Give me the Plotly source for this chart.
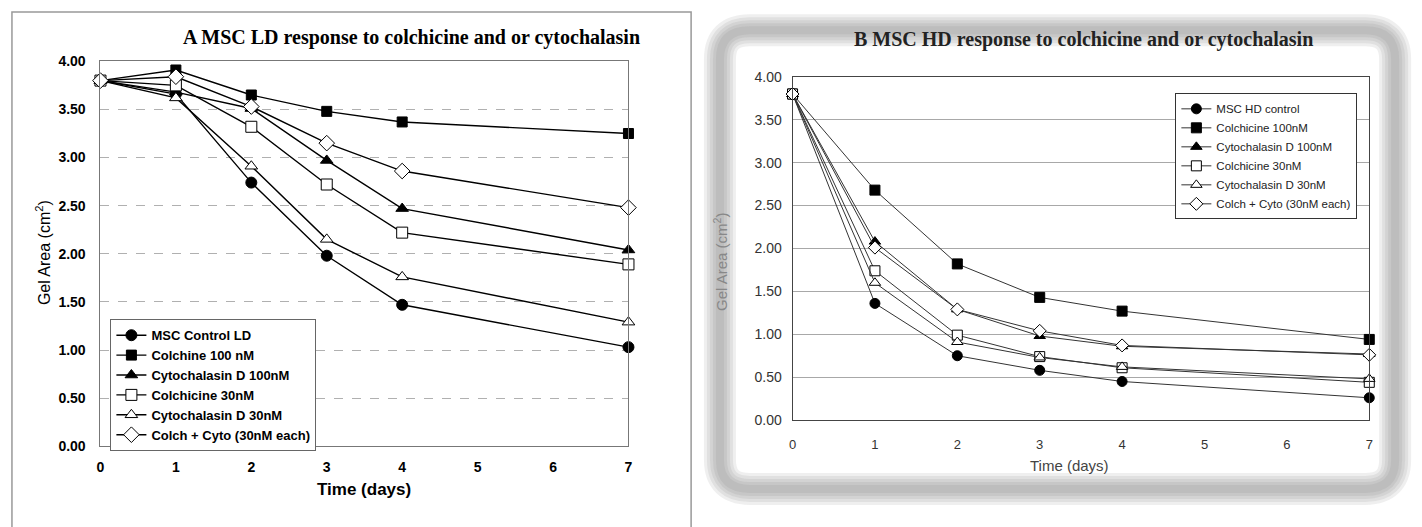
import plotly.graph_objects as go

W, H = 1422, 527

days = [0, 1, 2, 3, 4, 7]

# Panel A (MSC LD)
names_a = ["MSC Control LD", "Colchine 100 nM", "Cytochalasin D 100nM",
           "Colchicine 30nM", "Cytochalasin D 30nM", "Colch + Cyto (30nM each)"]
a_control = [3.80, 3.66, 2.74, 1.98, 1.47, 1.03]
a_colch100 = [3.80, 3.91, 3.65, 3.48, 3.37, 3.25]
a_cyto100 = [3.80, 3.68, 3.51, 2.97, 2.47, 2.04]
a_colch30 = [3.80, 3.75, 3.32, 2.72, 2.22, 1.89]
a_cyto30 = [3.80, 3.62, 2.91, 2.15, 1.76, 1.29]
a_combo = [3.80, 3.84, 3.53, 3.15, 2.86, 2.48]

# Panel B (MSC HD)
names_b = ["MSC HD control", "Colchicine 100nM", "Cytochalasin D 100nM",
           "Colchicine 30nM", "Cytochalasin D 30nM", "Colch + Cyto (30nM each)"]
b_control = [3.80, 1.36, 0.75, 0.58, 0.45, 0.26]
b_colch100 = [3.80, 2.68, 1.82, 1.43, 1.27, 0.94]
b_cyto100 = [3.80, 2.08, 1.29, 0.98, 0.86, 0.77]
b_colch30 = [3.80, 1.74, 0.99, 0.74, 0.61, 0.44]
b_cyto30 = [3.80, 1.60, 0.91, 0.73, 0.62, 0.48]
b_combo = [3.80, 2.01, 1.29, 1.04, 0.87, 0.76]

y_ticks = [0, 0.5, 1.0, 1.5, 2.0, 2.5, 3.0, 3.5, 4.0]
x_ticks = [0, 1, 2, 3, 4, 5, 6, 7]

symbols = ["circle", "square", "triangle-up", "square", "triangle-up", "diamond"]
fills = ["black", "black", "black", "white", "white", "white"]
sizes_a = [11, 10, 11, 11, 11, 12]
sizes_b = [10, 10, 10, 10, 10, 10]

def px(x):
    return x / W

def py(y):
    return 1 - y / H

fig = go.Figure()

series_a = [a_control, a_colch100, a_cyto100, a_colch30, a_cyto30, a_combo]
series_b = [b_control, b_colch100, b_cyto100, b_colch30, b_cyto30, b_combo]

for i, (nm, ys) in enumerate(zip(names_a, series_a)):
    fig.add_trace(go.Scatter(
        x=days, y=ys, name=nm, mode="lines+markers", xaxis="x", yaxis="y",
        legend="legend", cliponaxis=False,
        line=dict(color="black", width=1.4),
        marker=dict(symbol=symbols[i], size=sizes_a[i], color=fills[i],
                    line=dict(color="black", width=1))))

for i, (nm, ys) in enumerate(zip(names_b, series_b)):
    fig.add_trace(go.Scatter(
        x=days, y=ys, name=nm, mode="lines+markers", xaxis="x2", yaxis="y2",
        legend="legend2", cliponaxis=False,
        line=dict(color="#333333", width=1),
        marker=dict(symbol=symbols[i], size=sizes_b[i], color=fills[i],
                    line=dict(color="black", width=1))))

arial = "Liberation Sans, Arial, sans-serif"
times = "Liberation Serif, Times New Roman, serif"

axA = dict(range=[0, 7], tickvals=x_ticks, showgrid=False, zeroline=False,
           showline=True, linecolor="#777", linewidth=1, mirror=True,
           ticks="", ticklabelstandoff=8,
           tickfont=dict(family=arial, size=14, color="black", weight="bold"))
ayA = dict(range=[0, 4], tickvals=y_ticks, tickformat=".2f", zeroline=False,
           showgrid=True, gridcolor="#b0b0b0", griddash="dash", gridwidth=1,
           showline=True, linecolor="#777", linewidth=1, mirror=True,
           ticks="", ticklabelstandoff=11,
           tickfont=dict(family=arial, size=14, color="black", weight="bold"))

axB = dict(range=[0, 7], tickvals=x_ticks, showgrid=False, zeroline=False,
           showline=True, linecolor="#444", linewidth=1, mirror=True,
           ticks="", ticklabelstandoff=12,
           tickfont=dict(family=arial, size=13, color="#333"))
ayB = dict(range=[0, 4], tickvals=y_ticks, tickformat=".2f", zeroline=False,
           showgrid=True, gridcolor="#a8a8a8", gridwidth=1,
           showline=True, linecolor="#444", linewidth=1, mirror=True,
           ticks="", ticklabelstandoff=7,
           tickfont=dict(family=arial, size=14, color="#333"))

fig.update_layout(
    width=W, height=H, margin=dict(l=0, r=0, t=0, b=0),
    paper_bgcolor="white", plot_bgcolor="white",
    xaxis=dict(domain=[px(97), px(628)], anchor="y", **axA),
    yaxis=dict(domain=[py(452), py(55)], anchor="x", **ayA),
    xaxis2=dict(domain=[px(793), px(1373)], anchor="y2", **axB),
    yaxis2=dict(domain=[py(425), py(71)], anchor="x2", **ayB),
    legend=dict(x=px(107), y=py(321), xanchor="left", yanchor="top",
                bgcolor="white", bordercolor="#666", borderwidth=1,
                font=dict(family=arial, size=13, color="black", weight="bold"),
                tracegroupgap=0, itemwidth=30),
    legend2=dict(x=px(1178), y=py(88), xanchor="left", yanchor="top",
                 bgcolor="white", bordercolor="#333", borderwidth=1,
                 font=dict(family=arial, size=11.5, color="#222"),
                 tracegroupgap=0, itemwidth=30),
    showlegend=True,
)

annotations = [
    dict(text="A MSC LD response to colchicine and or cytochalasin",
         x=px(410), y=py(30), font=dict(family=times, size=20, color="black", weight="bold")),
    dict(text="B MSC HD response to colchicine and or cytochalasin",
         x=px(1086), y=py(33), font=dict(family=times, size=20, color="#222", weight="bold")),
    dict(text="Gel Area (cm<sup>2</sup>)", x=px(40), y=py(252), textangle=-90,
         font=dict(family=arial, size=16, color="black")),
    dict(text="Time (days)", x=px(362), y=py(497),
         font=dict(family=arial, size=17, color="black", weight="bold")),
    dict(text="Gel Area (cm<sup>2</sup>)", x=px(720), y=py(262), textangle=-90,
         font=dict(family=arial, size=15, color="#888")),
    dict(text="Time (days)", x=px(1072), y=py(472),
         font=dict(family=arial, size=15, color="#444")),
]
for a in annotations:
    a.update(xref="paper", yref="paper", showarrow=False, xanchor="center", yanchor="middle")
fig.update_layout(annotations=annotations)

def rrect(x0, y0, x1, y1, r):
    pts = [
        f"M {px(x0 + r)} {py(y0)}",
        f"L {px(x1 - r)} {py(y0)}",
        f"Q {px(x1)} {py(y0)} {px(x1)} {py(y0 + r)}",
        f"L {px(x1)} {py(y1 - r)}",
        f"Q {px(x1)} {py(y1)} {px(x1 - r)} {py(y1)}",
        f"L {px(x0 + r)} {py(y1)}",
        f"Q {px(x0)} {py(y1)} {px(x0)} {py(y1 - r)}",
        f"L {px(x0)} {py(y0 + r)}",
        f"Q {px(x0)} {py(y0)} {px(x0 + r)} {py(y0)}",
        "Z",
    ]
    return " ".join(pts)

shapes = [
    dict(type="rect", xref="paper", yref="paper", x0=px(8), x1=px(691),
         y0=py(560), y1=py(4), line=dict(color="#999", width=1.5), layer="below"),
]
for w in [32, 26, 20, 14, 8]:
    shapes.append(dict(type="path", xref="paper", yref="paper",
                       path=rrect(720, 23, 1399, 496, 30),
                       line=dict(color="rgba(110,110,110,0.11)", width=w), layer="below"))
fig.update_layout(shapes=shapes)

fig.write_html("out.html")
